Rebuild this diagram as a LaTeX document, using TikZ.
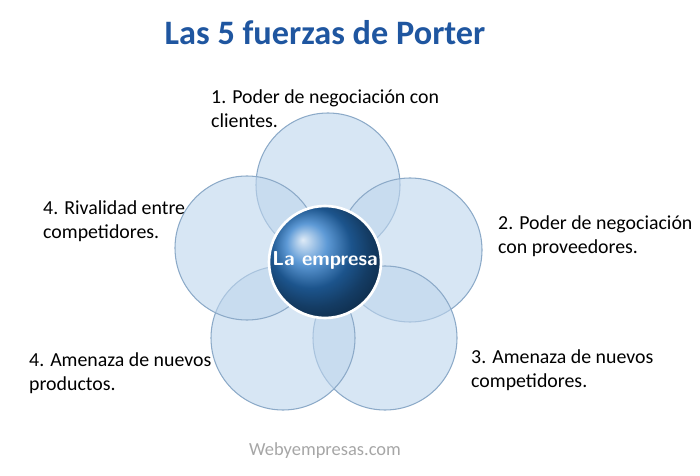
\documentclass[tikz,border=0pt]{standalone}
\usepackage{fontspec}
\setmainfont{Carlito}
\definecolor{titleblue}{RGB}{31,86,160}
\definecolor{ballblue}{RGB}{40,120,200}
\definecolor{petal}{RGB}{189,213,236}
\definecolor{petalline}{RGB}{140,170,200}
\begin{document}
\begin{tikzpicture}[x=0.02cm,y=-0.02cm,
    petal/.style={draw=petalline,fill=petal,fill opacity=0.6,line width=0.6pt},
    lbl/.style={anchor=north west,align=left,font=\fontsize{11.3}{13.2}\selectfont}]
  \useasboundingbox (0,0) rectangle (700,476);
  \node[font=\bfseries\fontsize{19.5}{23}\selectfont,text=titleblue] (title) at (325,33) {Las 5 fuerzas de Porter};
  % petalos
  \draw[petal] (328,185) circle (72);
  \draw[petal] (410,250) circle (72);
  \draw[petal] (385,338) circle (72);
  \draw[petal] (283,338) circle (72);
  \draw[petal] (247,248) circle (72);
  % centro
  \shade[ball color=ballblue,draw=white,line width=1.5pt] (325,262) circle (56);
  \node[text=white,font=\sffamily\bfseries\fontsize{11.5}{14}\selectfont] (empresa) at (325,260) {La empresa};
  % textos
  \node[lbl] (c1) at (205,84) {1. Poder de negociación con\\clientes.};
  \node[lbl] (c2) at (492,210) {2. Poder de negociación\\con proveedores.};
  \node[lbl] (c3) at (465,344) {3. Amenaza de nuevos\\competidores.};
  \node[lbl] (c4) at (37,195) {4. Rivalidad entre\\competidores.};
  \node[lbl] (c5) at (23,347) {4. Amenaza de nuevos\\productos.};
  \node[text=gray!70,font=\fontsize{10.5}{13}\selectfont] (web) at (325,451) {Webyempresas.com};
\end{tikzpicture}
\end{document}
